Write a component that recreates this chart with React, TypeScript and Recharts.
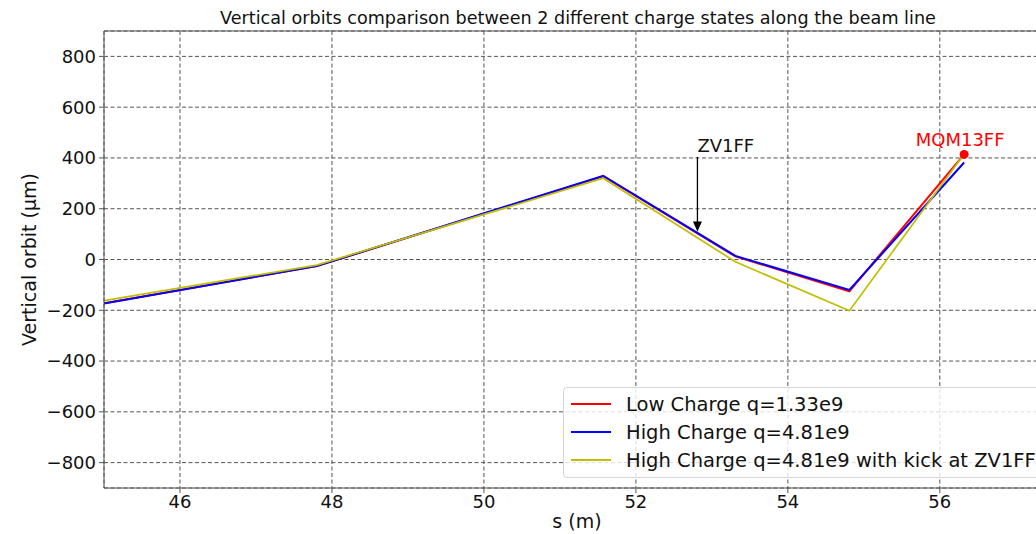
import React from 'react';
import {
  LineChart, Line, XAxis, YAxis, CartesianGrid, ReferenceLine, ReferenceDot, Legend,
} from 'recharts';

const sPositions = [45, 47.8, 51.57, 53.31, 54.81, 56.32];
const lowCharge = [-172, -26, 328, 12, -125, 414];
const highCharge = [-173, -26, 330, 14, -120, 382];
const highChargeKick = [-162, -22, 320, -9, -202, 416];

const xTicks = [46, 48, 50, 52, 54, 56];
const yTicks = [-800, -600, -400, -200, 0, 200, 400, 600, 800];

const seriesNames = ['Low Charge q=1.33e9', 'High Charge q=4.81e9', 'High Charge q=4.81e9 with kick at ZV1FF'];
const seriesKeys = ['low', 'high', 'kick'];
const seriesColors = ['#ff0000', '#0000ff', '#bfbf00'];

const kickerName = 'ZV1FF';
const kickerS = 52.81;
const kickerArrowFrom = 404;
const kickerArrowTo = 110;

const markerName = 'MQM13FF';
const markerS = 56.32;
const markerY = 414;

const title = 'Vertical orbits comparison between 2 different charge states along the beam line';

const data = sPositions.map((s, i) => ({
  s,
  low: lowCharge[i],
  high: highCharge[i],
  kick: highChargeKick[i],
}));

const FONT = 'DejaVu Sans, sans-serif';

const fmt = (v: number) => (v < 0 ? '\u2212' + Math.abs(v) : String(v));

const ArrowShape = (props: any) => {
  const { x1, y1, x2, y2 } = props;
  const hl = 10;
  const hw = 4.5;
  return (
    <g>
      <line x1={x1} y1={y1} x2={x2} y2={y2 - hl + 1} stroke="#000" strokeWidth={1.3} />
      <polygon points={`${x2 - hw},${y2 - hl} ${x2 + hw},${y2 - hl} ${x2},${y2}`} fill="#000" />
      <text x={x1} y={y1 - 5} fontSize={18} fontFamily={FONT} fill="#111" textAnchor="start">
        {kickerName}
      </text>
    </g>
  );
};

const YLabel = (props: any) => {
  const vb = props.viewBox || {};
  const cx = (vb.x || 0) + 36;
  const cy = (vb.y || 0) + (vb.height || 0) / 2;
  return (
    <text x={cx} y={cy} transform={`rotate(-90, ${cx}, ${cy})`} textAnchor="middle" fontSize={19} fontFamily={FONT} fill="#111">
      Vertical orbit (μm)
    </text>
  );
};

const LegendBox = () => (
  <div
    style={{
      width: 500,
      height: 91,
      boxSizing: 'border-box',
      border: '1px solid #d6d6d6',
      borderRadius: 4,
      background: 'rgba(255,255,255,0.8)',
      paddingTop: 2,
      fontFamily: FONT,
      fontSize: 19.5,
      color: '#111',
    }}
  >
    {seriesNames.map((n, i) => (
      <div key={n} style={{ display: 'flex', alignItems: 'center', height: 28, whiteSpace: 'nowrap' }}>
        <div style={{ width: 40, height: 2, background: seriesColors[i], marginLeft: 7, marginRight: 15 }} />
        <span>{n}</span>
      </div>
    ))}
  </div>
);

export default function App() {
  return (
    <div style={{ position: 'absolute', left: 0, top: 0, width: 1036, height: 534, overflow: 'hidden', background: '#fff' }}>
      <div
        style={{
          position: 'absolute', left: 0, width: 1156, top: 7, textAlign: 'center',
          fontFamily: FONT, fontSize: 17.6, color: '#111', lineHeight: '22px', whiteSpace: 'nowrap',
        }}
      >
        {title}
      </div>
      <div style={{ position: 'absolute', left: 0, top: 0 }}>
        <LineChart width={1100} height={534} data={data} margin={{ top: 31, right: 50, bottom: 0, left: 0 }}>
          <CartesianGrid stroke="#555" strokeDasharray="4 2.5" strokeWidth={1} />
          <XAxis
            dataKey="s"
            type="number"
            domain={[45, 57.45]}
            ticks={xTicks}
            allowDataOverflow
            height={46}
            tickSize={5}
            tickMargin={2}
            stroke="#555"
            tick={{ fill: '#111', fontSize: 18, fontFamily: FONT }}
            label={{ value: 's (m)', position: 'insideBottom', offset: 6, fill: '#111', fontSize: 19, fontFamily: FONT }}
          />
          <YAxis
            type="number"
            domain={[-900, 900]}
            ticks={yTicks}
            allowDataOverflow
            width={104}
            tickSize={5}
            tickMargin={3}
            stroke="#555"
            tickFormatter={fmt}
            tick={{ fill: '#111', fontSize: 18, fontFamily: FONT }}
            label={<YLabel />}
          />
          <ReferenceLine y={900} stroke="#555" strokeWidth={1} />
          {seriesKeys.map((k, i) => (
            <Line
              key={k}
              dataKey={k}
              name={seriesNames[i]}
              stroke={seriesColors[i]}
              strokeWidth={i === 2 ? 1.7 : 2}
              dot={false}
              isAnimationActive={false}
            />
          ))}
          <ReferenceLine
            segment={[{ x: kickerS, y: kickerArrowFrom }, { x: kickerS, y: kickerArrowTo }]}
            shape={ArrowShape}
            ifOverflow="visible"
          />
          <ReferenceDot
            x={markerS}
            y={markerY}
            r={4.5}
            fill="#ff0000"
            stroke="none"
            label={{ value: markerName, position: 'top', offset: 4, fill: '#ff0000', fontSize: 18, fontFamily: FONT, dx: -4 }}
          />
          <Legend
            layout="vertical"
            align="center"
            verticalAlign="middle"
            content={<LegendBox />}
            wrapperStyle={{ position: 'absolute', left: 563, top: 387, width: 500, height: 91 }}
          />
        </LineChart>
      </div>
    </div>
  );
}
